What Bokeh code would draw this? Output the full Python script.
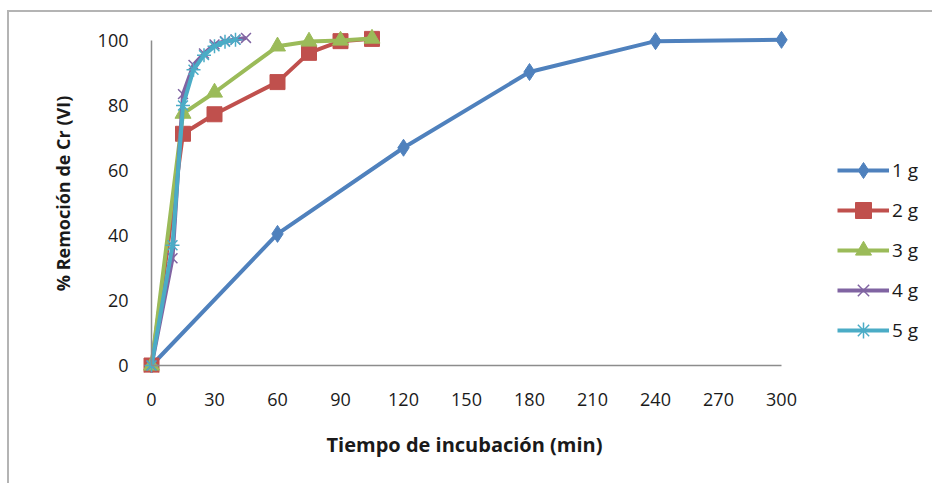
from bokeh.plotting import figure
from bokeh.models import Range1d, FixedTicker, Legend, LegendItem, LinearAxis, Title
from bokeh.embed import file_html
from bokeh.resources import INLINE

t1 = [0, 60, 120, 180, 240, 300]
v1 = [0, 40.5, 67, 90.3, 99.8, 100.2]
t2 = [0, 15, 30, 60, 75, 90, 105]
v2 = [0, 71.3, 77.3, 87.2, 96.2, 99.8, 100.5]
t3 = [0, 15, 30, 60, 75, 90, 105]
v3 = [0, 77.5, 84, 98.2, 99.7, 100, 100.6]
t4 = [0, 10, 15, 20, 25, 30, 35, 40, 45]
v4 = [0, 33, 83.5, 92.5, 96, 98.8, 99.8, 100.3, 100.8]
t5 = [0, 10, 15, 20, 25, 30, 35, 40]
v5 = [0, 37, 80, 91, 95.5, 98.2, 99.6, 100.2]
labels = ["1 g", "2 g", "3 g", "4 g", "5 g"]
x_ticks = [0, 30, 60, 90, 120, 150, 180, 210, 240, 270, 300]
y_ticks = [0, 20, 40, 60, 80, 100]

FONT = "Open Sans"
colors = ["#4F81BD", "#C0504D", "#9BBB59", "#8064A2", "#4BACC6"]

W, H = 925, 473
OX, OY = 7, 10  # page offset of the figure
fl, fr, ft, fb = 140, 925, 12, 370
xs = (779 - 149) / 300.0
ys = (363 - 38) / 100.0
x_start = (fl - 149) / xs
x_end = 300 + (fr - 779) / xs
y_end = 100 + (38 - ft) / ys
y_start = -(fb - 363) / ys

p = figure(width=W, height=H, output_backend="svg", toolbar_location=None,
           x_range=Range1d(x_start, x_end), y_range=Range1d(y_start, y_end),
           min_border_left=fl - OX, min_border_right=OX + W - fr,
           min_border_top=ft - OY, min_border_bottom=OY + H - fb)
p.margin = (OY, 0, 0, OX)
p.styles = {"border-top": "2px solid #b4b4b4", "border-left": "2px solid #b4b4b4"}
p.outline_line_color = None
p.grid.visible = False
p.background_fill_color = "white"
p.border_fill_color = "white"

# axis lines drawn at data zero (no ticks / labels)
for ax in (p.xaxis[0], p.yaxis[0]):
    ax.fixed_location = 0
    ax.ticker = FixedTicker(ticks=[])
    ax.axis_line_color = "#8c8c8c"
    ax.axis_line_width = 1.5
    ax.major_tick_line_color = None
    ax.minor_tick_line_color = None
    ax.major_label_standoff = 0
p.xaxis[0].bounds = (0, 300)
p.yaxis[0].bounds = (0, 100)

# label-only axes
xlab = LinearAxis(ticker=FixedTicker(ticks=x_ticks), bounds=(0, 300))
ylab = LinearAxis(ticker=FixedTicker(ticks=y_ticks), bounds=(0, 100))
for ax in (xlab, ylab):
    ax.axis_line_color = None
    ax.major_tick_line_color = None
    ax.minor_tick_line_color = None
    ax.major_label_text_font = FONT
    ax.major_label_text_font_size = "18px"
    ax.major_label_text_color = "#1a1a1a"
    ax.axis_label_text_font = FONT
    ax.axis_label_text_font_style = "bold"
    ax.axis_label_text_color = "#1a1a1a"
ylab.axis_label_text_font_size = "18px"
xlab.major_label_standoff = 14
ylab.major_label_standoff = 8
ylab.axis_label = "% Remoción de Cr (VI)"
ylab.axis_label_standoff = 20
p.add_layout(xlab, "below")
p.add_layout(ylab, "left")

xtitle = Title(text="Tiempo de incubación (min)", align="left", offset=(324 - fl),
               text_font=FONT, text_font_style="bold", text_font_size="20px",
               text_color="#1a1a1a", standoff=40)
p.add_layout(xtitle, "below")

series = [(t1, v1, "diamond", 17), (t2, v2, "square", 15), (t3, v3, "triangle", 16),
          (t4, v4, "x", 14), (t5, v5, "asterisk", 14)]
items = []
for (t, v, m, s), c, lab in zip(series, colors, labels):
    r1 = p.line(t, v, line_color=c, line_width=4)
    if m in ("x", "asterisk"):
        r2 = p.scatter(t, v, marker=m, size=s, line_color=c, line_width=1.5)
    else:
        r2 = p.scatter(t, v, marker=m, size=s, fill_color=c, line_color=c)
    items.append(LegendItem(label=lab, renderers=[r1, r2]))

legend = Legend(items=items, location=(835 - fl, fb - 348), orientation="vertical",
                label_text_font=FONT, label_text_font_size="19px",
                label_text_color="#1a1a1a",
                glyph_width=52, glyph_height=40, spacing=0, padding=0, margin=0,
                label_standoff=3, border_line_color=None, background_fill_alpha=0)
p.add_layout(legend, "center")

open("out.html", "w").write(file_html(p, INLINE))
